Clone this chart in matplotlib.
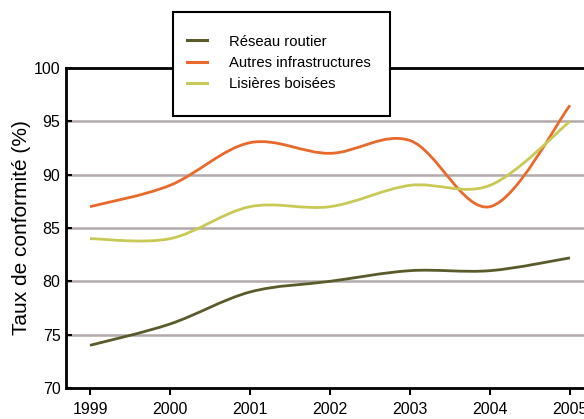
import matplotlib
matplotlib.use("Agg")
import matplotlib.pyplot as plt
import matplotlib.patches as patches
import numpy as np
from matplotlib.path import Path

plt.rcParams["font.family"] = ["Liberation Sans", "DejaVu Sans"]

years = [1999, 2000, 2001, 2002, 2003, 2004, 2005]
reseau_routier = [74, 76, 79, 80, 81, 81, 82.2]
autres_infra = [87, 89, 93, 92, 93.2, 87, 96.5]
lisieres = [84, 84, 87, 87, 89, 89, 95]

labels = ["Réseau routier", "Autres infrastructures", "Lisières boisées"]
colors = ["#5a5a2b", "#e9692b", "#c9c956"]


def smooth_path(xs, ys):
    # courbe lissée façon tableur : Bézier cubique passant par chaque point
    pts = np.column_stack([xs, ys]).astype(float)
    n = len(pts)
    verts = [pts[0]]
    codes = [Path.MOVETO]
    for i in range(n - 1):
        p0 = pts[max(i - 1, 0)]
        p1 = pts[i]
        p2 = pts[i + 1]
        p3 = pts[min(i + 2, n - 1)]
        c1 = p1 + (p2 - p0) / 6.0
        c2 = p2 - (p3 - p1) / 6.0
        verts += [c1, c2, p2]
        codes += [Path.CURVE4] * 3
    return Path(verts, codes)


fig = plt.figure(figsize=(5.84, 4.19), dpi=100)
ax = fig.add_axes([66 / 584, 31 / 419, 528 / 584, 320 / 419])

for y in [75, 80, 85, 90, 95]:
    ax.axhline(y, color="#b3a9aa", lw=1.8, zorder=1)

handles = []
for vals, lab, col in zip([reseau_routier, autres_infra, lisieres], labels, colors):
    p = patches.PathPatch(smooth_path(years, vals), facecolor="none",
                          edgecolor=col, lw=2.0, zorder=3)
    ax.add_patch(p)
    h, = ax.plot([], [], color=col, lw=2.2, label=lab)
    handles.append(h)

ax.set_xlim(1998.7, 2005.3)
ax.set_ylim(70, 100)
ax.set_xticks(years)
ax.set_yticks([70, 75, 80, 85, 90, 95, 100])
ax.tick_params(axis="x", direction="out", length=5, width=1.5, labelsize=11.5, pad=5)
ax.tick_params(axis="y", direction="in", length=4, width=1.5, labelsize=11.5, pad=4)
for s in ax.spines.values():
    s.set_linewidth(2)
    s.set_color("black")
ax.set_ylabel("Taux de conformité (%)", fontsize=15, labelpad=2)

# cadre de la légende, posé par-dessus le bord supérieur
box = patches.Rectangle((173 / 584, 303 / 419), 217 / 584, 104 / 419,
                        transform=fig.transFigure, facecolor="white",
                        edgecolor="black", lw=1.5, clip_on=False, zorder=4)
ax.add_patch(box)

leg = ax.legend(handles=handles, loc="center left",
                bbox_to_anchor=(187 / 584, 356 / 419),
                bbox_transform=fig.transFigure,
                fontsize=10.7, frameon=False,
                handlelength=1.35, handletextpad=1.5, borderpad=0,
                labelspacing=0.5, borderaxespad=0)
leg.set_zorder(5)

fig.savefig("out.png", dpi=100)
